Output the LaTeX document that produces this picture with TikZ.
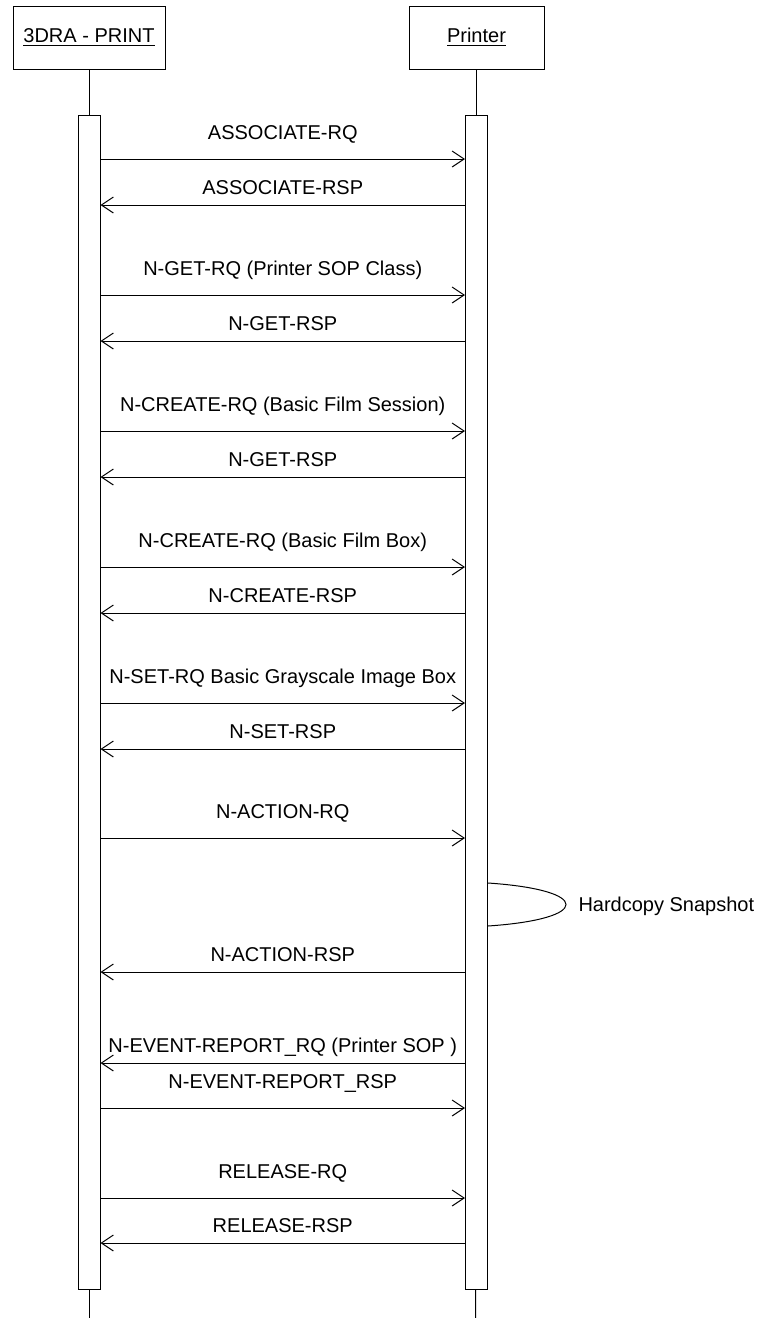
\documentclass[tikz,border=0pt]{standalone}
\usepackage{fontspec}
\setmainfont{Liberation Sans}
\usepackage{xcolor}
\definecolor{seqline}{HTML}{000000}
\definecolor{seqtext}{HTML}{000000}
\usepackage{tikz}
\usetikzlibrary{arrows.meta, positioning, calc}
\tikzset{
  actor/.style  ={rectangle, draw=seqline, line width=0.5pt, fill=white, text=seqtext, align=center,
                  inner sep=0pt, minimum height=31.5pt, font=\fontsize{10}{12}\selectfont},
  actbar/.style ={rectangle, draw=seqline, line width=0.5pt, fill=white, inner sep=0pt,
                  minimum width=11pt, minimum height=587pt},
  lifeln/.style ={line width=0.5pt, color=seqline},
  msgarr/.style ={-{Straight Barb[length=6pt, width=8pt]}, line width=0.5pt, color=seqline},
  rqlbl/.style  ={midway, anchor=base, inner sep=0pt, yshift=10pt, text=seqtext, font=\fontsize{10}{12}\selectfont},
  rsplbl/.style ={midway, anchor=base, inner sep=0pt, yshift=5.5pt, text=seqtext, font=\fontsize{10}{12}\selectfont},
  notelbl/.style={anchor=base west, inner sep=0pt, text=seqtext, font=\fontsize{10}{12}\selectfont},
}

\begin{document}
\begin{tikzpicture}[x=0.5pt, y=-0.5pt]
  \useasboundingbox (0,0) rectangle (757,1318);
  % participants
  \node[actor, minimum width=76pt] (cli) at (89,37.5) {\underline{3DRA - PRINT}};
  \node[actor, minimum width=67.5pt, right=121.5pt of cli] (prn) {\underline{Printer}};
  \node[actbar, below=22.5pt of cli] (clibar) {};
  \node[actbar, below=22.5pt of prn] (prnbar) {};
  \coordinate (cliend) at (89,1318);
  \coordinate (prnend) at (475.5,1318);
  \draw[lifeln] (cli) -- (clibar); \draw[lifeln] (clibar) -- (cliend);
  \draw[lifeln] (prn) -- (prnbar); \draw[lifeln] (prnbar) -- (prnend);

  % messages
  \draw[msgarr] (clibar.east |- 0,159) -- node[rqlbl] (m1) {ASSOCIATE-RQ} (prnbar.west |- 0,159);
  \draw[msgarr] (prnbar.west |- 0,205) -- node[rsplbl] (m2) {ASSOCIATE-RSP} (clibar.east |- 0,205);
  \draw[msgarr] (clibar.east |- 0,295) -- node[rqlbl] (m3) {N-GET-RQ (Printer SOP Class)} (prnbar.west |- 0,295);
  \draw[msgarr] (prnbar.west |- 0,341) -- node[rsplbl] (m4) {N-GET-RSP} (clibar.east |- 0,341);
  \draw[msgarr] (clibar.east |- 0,431) -- node[rqlbl] (m5) {N-CREATE-RQ (Basic Film Session)} (prnbar.west |- 0,431);
  \draw[msgarr] (prnbar.west |- 0,477) -- node[rsplbl] (m6) {N-GET-RSP} (clibar.east |- 0,477);
  \draw[msgarr] (clibar.east |- 0,567) -- node[rqlbl] (m7) {N-CREATE-RQ (Basic Film Box)} (prnbar.west |- 0,567);
  \draw[msgarr] (prnbar.west |- 0,613) -- node[rsplbl] (m8) {N-CREATE-RSP} (clibar.east |- 0,613);
  \draw[msgarr] (clibar.east |- 0,703) -- node[rqlbl] (m9) {N-SET-RQ Basic Grayscale Image Box} (prnbar.west |- 0,703);
  \draw[msgarr] (prnbar.west |- 0,749) -- node[rsplbl] (m10) {N-SET-RSP} (clibar.east |- 0,749);
  \draw[msgarr] (clibar.east |- 0,838) -- node[rqlbl] (m11) {N-ACTION-RQ} (prnbar.west |- 0,838);
  \draw[lifeln] (prnbar.east |- 0,883) .. controls +(104,7) and +(104,-7) .. (prnbar.east |- 0,926)
    node[notelbl, pos=0.5, xshift=6pt, yshift=-3.25pt] (snap) {Hardcopy Snapshot};
  \draw[msgarr] (prnbar.west |- 0,972) -- node[rsplbl] (m12) {N-ACTION-RSP} (clibar.east |- 0,972);
  \draw[msgarr] (prnbar.west |- 0,1063) -- node[rsplbl] (m13) {N-EVENT-REPORT\_RQ (Printer SOP )} (clibar.east |- 0,1063);
  \draw[msgarr] (clibar.east |- 0,1108) -- node[rqlbl] (m14) {N-EVENT-REPORT\_RSP} (prnbar.west |- 0,1108);
  \draw[msgarr] (clibar.east |- 0,1198) -- node[rqlbl] (m15) {RELEASE-RQ} (prnbar.west |- 0,1198);
  \draw[msgarr] (prnbar.west |- 0,1243) -- node[rsplbl] (m16) {RELEASE-RSP} (clibar.east |- 0,1243);
\end{tikzpicture}
\end{document}
